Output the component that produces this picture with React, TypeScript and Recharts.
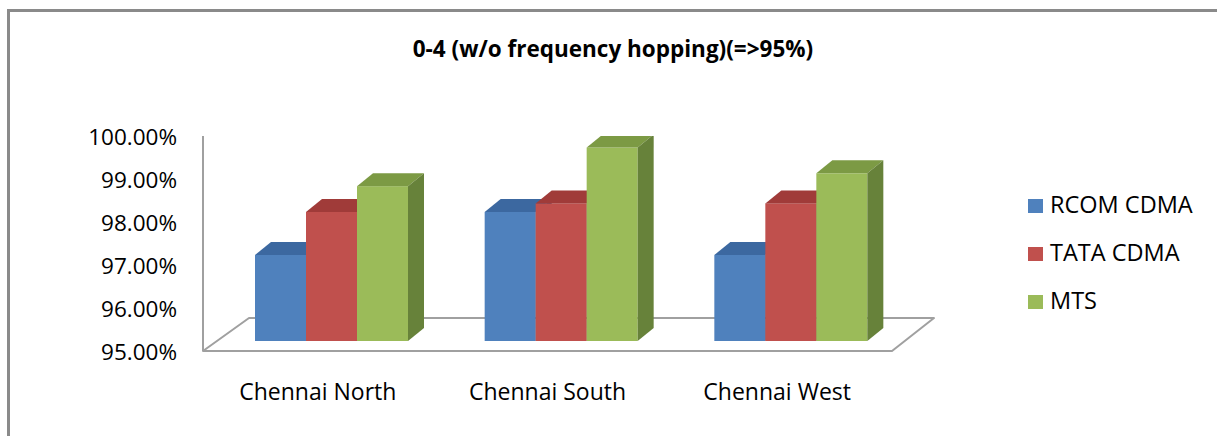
import { BarChart, Bar, XAxis, YAxis } from "recharts";

const categories = ["Chennai North", "Chennai South", "Chennai West"];
const rcomCdma = [97.0, 98.0, 97.0];
const tataCdma = [98.0, 98.2, 98.2];
const mts = [98.6, 99.5, 98.9];
const yTicks = [95, 96, 97, 98, 99, 100];

const SERIES = [
  { key: "rcom", name: "RCOM CDMA", front: "#4F81BD", top: "#3C68A0", side: "#34598A" },
  { key: "tata", name: "TATA CDMA", front: "#C0504D", top: "#A03B39", side: "#8A3230" },
  { key: "mts", name: "MTS", front: "#9BBB59", top: "#7C9A44", side: "#67823A" },
];

const data = categories.map((name, i) => ({
  name,
  rcom: rcomCdma[i],
  tata: tataCdma[i],
  mts: mts[i],
}));

const W = 1217;
const H = 436;
const MARGIN = { top: 136, right: 325, bottom: 45, left: 60 };
const Y_AXIS_W = 143;
const X_AXIS_H = 40;
const PLOT_LEFT = MARGIN.left + Y_AXIS_W;
const PLOT_RIGHT = W - MARGIN.right;
const PLOT_BOTTOM = H - MARGIN.bottom - X_AXIS_H;

// fake 3d: floor depth, where the bars sit on it, and bar depth
const FLOOR_DX = 45;
const FLOOR_DY = 33;
const BAR_SHIFT_X = 14;
const BAR_SHIFT_Y = 10;
const DEPTH_X = 16;
const DEPTH_Y = 13;

const FONT = "'Open Sans', sans-serif";

function makeShape(s: { front: string; top: string; side: string }) {
  return (props: any) => {
    const { x, y, width, height } = props;
    if (width == null || height == null) return <g />;
    const fx = x + BAR_SHIFT_X;
    const fy = y - BAR_SHIFT_Y;
    const r = fx + width;
    const b = fy + height;
    return (
      <g>
        <rect x={fx} y={fy} width={width} height={height} fill={s.front} />
        <polygon
          points={`${fx},${fy} ${fx + DEPTH_X},${fy - DEPTH_Y} ${r + DEPTH_X},${fy - DEPTH_Y} ${r},${fy}`}
          fill={s.top}
        />
        <polygon
          points={`${r},${fy} ${r + DEPTH_X},${fy - DEPTH_Y} ${r + DEPTH_X},${b - DEPTH_Y} ${r},${b}`}
          fill={s.side}
        />
      </g>
    );
  };
}

export default function App() {
  return (
    <div style={{ position: "relative", width: W, height: H, overflow: "hidden", background: "#fff" }}>
      <style>{"body{margin:0}"}</style>
      {/* frame, only top and left edges show */}
      <div
        style={{
          position: "absolute",
          left: 7,
          top: 9,
          width: W + 40,
          height: H + 40,
          border: "3px solid #8a8a8a",
          boxSizing: "border-box",
        }}
      />
      <svg width={W} height={H} style={{ position: "absolute", left: 0, top: 0 }}>
        <text
          x={613}
          y={57}
          textAnchor="middle"
          fontFamily={FONT}
          fontWeight="bold"
          fontSize={22.5}
          fill="#000"
        >
          0-4 (w/o frequency hopping)(=&gt;95%)
        </text>
        {/* floor */}
        <polygon
          points={`${PLOT_LEFT},${PLOT_BOTTOM} ${PLOT_RIGHT},${PLOT_BOTTOM} ${PLOT_RIGHT + FLOOR_DX - 3},${PLOT_BOTTOM - FLOOR_DY} ${PLOT_LEFT + FLOOR_DX + 1},${PLOT_BOTTOM - FLOOR_DY}`}
          fill="#fff"
          stroke="#a0a0a0"
          strokeWidth={2}
          strokeLinejoin="round"
        />
        {SERIES.map((s, i) => (
          <g key={s.key}>
            <rect x={1028} y={199 + i * 48} width={15} height={14} fill={s.front} />
            <text x={1050} y={213 + i * 48} fontFamily={FONT} fontSize={23.5} fill="#000">
              {s.name}
            </text>
          </g>
        ))}
      </svg>
      <div style={{ position: "absolute", left: 0, top: 0 }}>
        <BarChart width={W} height={H} data={data} margin={MARGIN} barGap={0} barSize={51}>
          <XAxis
            dataKey="name"
            height={X_AXIS_H}
            axisLine={false}
            tickLine={false}
            tickSize={0}
            tickMargin={33}
            tick={{ fontSize: 23, fill: "#000", fontFamily: FONT }}
          />
          <YAxis
            width={Y_AXIS_W}
            domain={[95, 100]}
            ticks={yTicks}
            allowDataOverflow
            tickFormatter={(v: number) => `${v.toFixed(2)}%`}
            axisLine={{ stroke: "#a0a0a0", strokeWidth: 2 }}
            tickLine={false}
            tickSize={0}
            tickMargin={26}
            tick={{ fontSize: 22.5, fill: "#000", fontFamily: FONT, dy: 1 }}
          />
          {SERIES.map((s) => (
            <Bar
              key={s.key}
              dataKey={s.key}
              name={s.name}
              fill={s.front}
              shape={makeShape(s)}
              isAnimationActive={false}
            />
          ))}
        </BarChart>
      </div>
    </div>
  );
}
